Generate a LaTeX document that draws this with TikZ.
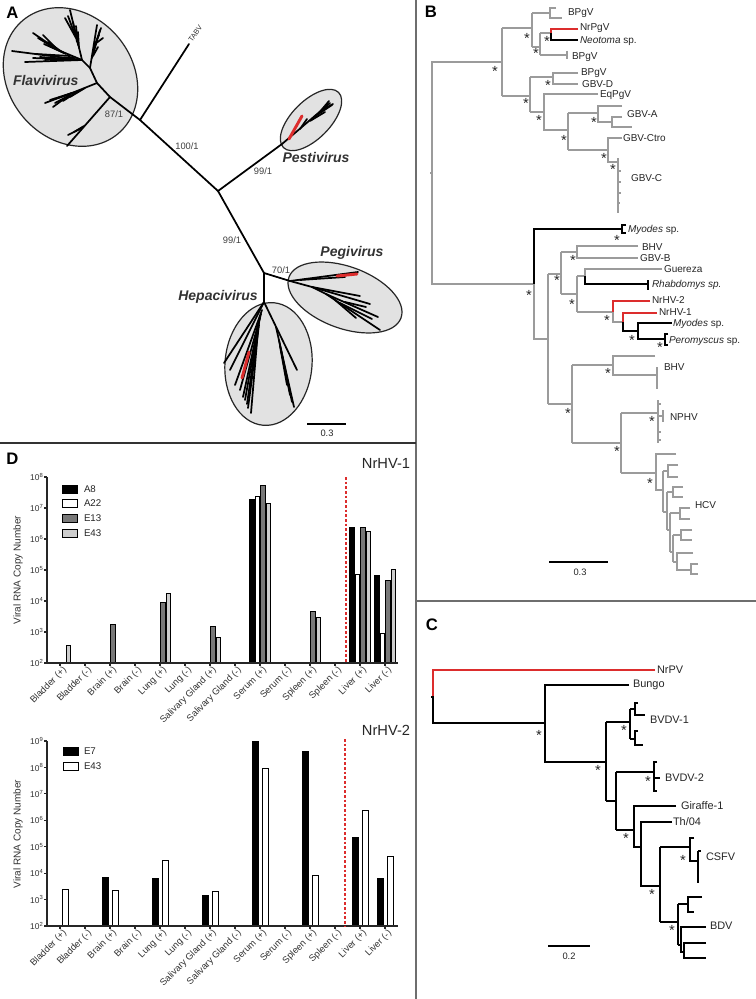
\documentclass[tikz,border=0pt]{standalone}
\usepackage{fontspec}
\setmainfont{Liberation Sans}
\definecolor{tgray}{RGB}{155,155,155}
\definecolor{tred}{RGB}{220,45,45}
\definecolor{efill}{RGB}{226,226,226}
\definecolor{bdark}{RGB}{120,120,120}
\definecolor{blight}{RGB}{205,205,205}
\definecolor{framec}{RGB}{110,110,110}
\begin{document}
\begin{tikzpicture}[x=0.75pt,y=-0.75pt,
 every node/.style={inner sep=0pt,outer sep=0pt},
 pl/.style={font=\fontsize{12.5}{14}\selectfont\bfseries},
 al/.style={line width=1.3pt,draw=black,line cap=round},
 ar/.style={line width=2.2pt,draw=tred,line cap=round},
 gt/.style={line width=1.1pt,draw=tgray},
 bt/.style={line width=1.1pt,draw=black},
 rt/.style={line width=1.1pt,draw=tred},
 ct/.style={line width=1.25pt,draw=black},
 lab/.style={font=\fontsize{7.5}{9}\selectfont,anchor=west,text=black!85},
 clab/.style={font=\fontsize{8.2}{10}\selectfont,anchor=west,text=black!85},
 ast/.style={font=\fontsize{11}{12}\selectfont,yshift=-2.4pt,text=black!85},
 boot/.style={font=\fontsize{7}{8}\selectfont,text=black!75},
 genus/.style={font=\fontsize{10.5}{12}\selectfont\bfseries\itshape,text=black!80},
 ell/.style={fill=efill,draw=black!85,line width=0.9pt},
 sbar/.style={line width=1.2pt,draw=black},
 stxt/.style={font=\fontsize{7}{8}\selectfont,text=black!85},
 barl/.style={line width=0.6pt,draw=black},
 tickl/.style={font=\fontsize{6.3}{7}\selectfont,text=black!80,anchor=east},
 catl/.style={font=\fontsize{7}{8}\selectfont,text=black!80,rotate=45,anchor=east},
 axl/.style={font=\fontsize{7.5}{8}\selectfont,text=black!80,rotate=90},
 ax/.style={line width=0.8pt,draw=black!85},
 rdash/.style={line width=0.8pt,draw=tred,dash pattern=on 2pt off 1.5pt},
 legl/.style={font=\fontsize{7.3}{8}\selectfont,text=black!85,anchor=west},
 big/.style={font=\fontsize{11}{12}\selectfont,text=black!85}
]
\fill[white] (0,0) rectangle (756,999);
\useasboundingbox (0,0) rectangle (756,999);

% frames
\draw[draw=framec,line width=1.5pt] (416,0) -- (416,999);
\draw[draw=black!80,line width=1.2pt] (0,443) -- (416,443);
\draw[draw=framec,line width=1.5pt] (416,601) -- (756,601);

% ================= PANEL A =================
\node[pl] (labA) at (12.5,13) {A};
\filldraw[ell,rotate around={-50:(70.5,77)}] (70.5,77) ellipse (74 and 62);
\filldraw[ell,rotate around={45:(311,120)}] (311,120) ellipse (39 and 19);
\filldraw[ell,rotate around={-20:(345,297.5)}] (345,297.5) ellipse (59.6 and 30.9);
\filldraw[ell,rotate around={-5:(268.5,364)}] (268.5,364) ellipse (43.5 and 61.5);

% backbone
\draw[al] (82,60) -- (90,68) -- (97,83) -- (110,97) -- (140,120) -- (218,191) -- (282,144);
\draw[al] (140,120) -- (189,44);
\draw[al] (218,191) -- (264,273) -- (290,281);
\draw[al] (264,273) -- (264,302);
% flavivirus fans
\draw[al] (82,60) -- (12,51);
\draw[al] (82,60) -- (25,62);
\draw[al] (82,60) -- (33,58);
\draw[al] (82,60) -- (40,57);
\draw[al] (70,56) -- (36,54);
\draw[al] (74,57) -- (45,60);
\draw[al] (82,60) -- (58,50) -- (33,33);
\draw[al] (58,50) -- (43,35);
\draw[al] (58,50) -- (38,38);
\draw[al] (62,52) -- (48,42);
\draw[al] (64,53) -- (44,44);
\draw[al] (66,54) -- (52,47);
\draw[al] (82,60) -- (70,10);
\draw[al] (76,38) -- (65,18);
\draw[al] (75,35) -- (68,16);
\draw[al] (77,42) -- (73,22);
\draw[al] (78,45) -- (76,26);
\draw[al] (79,48) -- (78,32);
\draw[al] (90,68) -- (97,25);
\draw[al] (93,52) -- (101,28);
\draw[al] (94,49) -- (100,30);
\draw[al] (94,47) -- (99,35);
\draw[al] (95,44) -- (103,38);
\draw[al] (93,56) -- (98,47);
\draw[al] (92,58) -- (96,44);
\draw[al] (97,83) -- (72,93) -- (45,103);
\draw[al] (72,93) -- (53,107);
\draw[al] (72,93) -- (50,100);
\draw[al] (70,95) -- (55,103);
\draw[al] (78,91) -- (58,98);
\draw[al] (80,90) -- (63,101);
\draw[al] (85,88) -- (70,97);
\draw[al] (110,97) -- (67,146);
\draw[al] (82,128) -- (68,135);
\draw[al] (84,126) -- (74,132);
% pestivirus
\draw[al] (282,144) -- (330,103);
\draw[al] (300,129) -- (307,119);
\draw[al] (310,121) -- (325,112);
\draw[al] (314,117) -- (332,105);
\draw[al] (318,114) -- (329,101);
\draw[al] (322,110) -- (333,104);
\draw[ar] (289,139) -- (302,116);
% pegivirus
\draw[al] (290,281) -- (358,272);
\draw[al] (300,280) -- (345,277);
\draw[ar] (337,276) -- (357,274);
\draw[al] (290,281) -- (312,287) -- (360,296);
\draw[al] (312,287) -- (370,304);
\draw[al] (312,287) -- (326,294) -- (378,317);
\draw[al] (326,294) -- (380,330);
\draw[al] (340,303) -- (372,319);
\draw[al] (345,302) -- (366,307);
\draw[al] (335,300) -- (356,318);
% hepacivirus
\draw[al] (264,302) -- (224,363);
\draw[al] (264,302) -- (230,370);
\draw[al] (262,310) -- (235,385);
\draw[al] (261,314) -- (240,390);
\draw[al] (260,318) -- (243,397);
\draw[al] (259,322) -- (247,404);
\draw[al] (259,325) -- (248,408);
\draw[al] (258,330) -- (251,413);
\draw[al] (257,333) -- (245,400);
\draw[ar] (249,352) -- (242,378);
\draw[al] (264,302) -- (297,370);
\draw[al] (276,327) -- (294,407);
\draw[al] (279,340) -- (290,395);
\draw[al] (280,346) -- (287,385);
\draw[al] (281,350) -- (292,402);
% labels
\node[genus,anchor=west] (flav) at (13,80) {Flavivirus};
\node[genus] (pest) at (316,157) {Pestivirus};
\node[genus] (pegi) at (352,253) {Pegivirus};
\node[genus] (hepa) at (218,297) {Hepacivirus};
\node[boot] (b1) at (114,114) {87/1};
\node[boot] (b2) at (187,146) {100/1};
\node[boot] (b3) at (263,171) {99/1};
\node[boot] (b4) at (232,240) {99/1};
\node[boot] (b5) at (281,270) {70/1};
\node[font=\fontsize{5.5}{6}\selectfont,text=black!80,rotate=55,anchor=west] (tabv) at (190,41) {TABV};
\draw[sbar] (307,424) -- (346,424);
\node[stxt] (sA) at (327,433) {0.3};

% ================= PANEL B =================
\node[pl] (labB) at (431,12) {B};
% root
\draw[gt] (430,173) -- (432,173);
\draw[gt] (502,62) -- (432,62) -- (432,284) -- (534,284);
% pegivirus clade
\draw[gt] (502,28) -- (502,96);
\draw[gt] (502,28) -- (532,28);
\draw[gt] (532,13) -- (532,47);
\draw[gt] (532,13) -- (550,13);
\draw[gt] (556,8) -- (550,8) -- (550,18) -- (562,18);
\draw[gt] (532,47) -- (540,47);
\draw[gt] (540,33) -- (540,55);
\draw[gt] (540,33) -- (551,33);
\draw[rt] (578,29) -- (551,29) -- (551,33);
\draw[bt] (551,33) -- (551,40) -- (578,40);
\draw[gt] (540,55) -- (567,55);
\draw[gt] (567,51) -- (567,59);
\draw[gt] (502,96) -- (530,96);
\draw[gt] (530,77) -- (530,112);
\draw[gt] (530,77) -- (553,77);
\draw[gt] (578,73) -- (553,73) -- (553,84) -- (578,84);
\draw[gt] (530,112) -- (544,112);
\draw[gt] (598,94) -- (544,94) -- (544,130) -- (568,130);
\draw[gt] (568,113) -- (568,150);
\draw[gt] (568,113) -- (598,113);
\draw[gt] (622,106) -- (598,106) -- (598,122) -- (612,122);
\draw[gt] (622,117) -- (612,117) -- (612,127) -- (632,127);
\draw[gt] (568,150) -- (608,150);
\draw[gt] (622,138) -- (608,138) -- (608,162) -- (618,162);
\draw[gt] (618,158) -- (618,213);
\draw[gt] (618,171) -- (621,171);
\draw[gt] (618,182) -- (621,182);
\draw[gt] (618,193) -- (621,193);
\draw[gt] (618,203) -- (620,203);
% hepacivirus clade
\draw[bt] (534,284) -- (534,229) -- (622,229);
\draw[bt] (626,225) -- (622,225) -- (622,233) -- (626,233);
\draw[gt] (534,284) -- (534,339) -- (548,339);
\draw[gt] (548,274) -- (548,404);
\draw[gt] (548,274) -- (561,274);
\draw[gt] (561,252) -- (561,294);
\draw[gt] (561,252) -- (577,252);
\draw[gt] (638,246) -- (577,246) -- (577,258) -- (638,258);
\draw[gt] (561,294) -- (577,294);
\draw[gt] (577,276) -- (577,312);
\draw[gt] (577,276) -- (585,276);
\draw[gt] (662,269) -- (585,269) -- (585,276);
\draw[bt] (585,276) -- (585,284) -- (648,284);
\draw[bt] (648,280) -- (648,290);
\draw[gt] (577,312) -- (613,312);
\draw[rt] (650,301) -- (613,301) -- (613,312);
\draw[gt] (613,312) -- (613,322) -- (623,322);
\draw[rt] (657,313) -- (623,313) -- (623,322);
\draw[bt] (623,322) -- (623,331) -- (638,331);
\draw[bt] (672,323) -- (638,323) -- (638,339) -- (665,339);
\draw[bt] (668,334) -- (665,334) -- (665,345) -- (668,345);
\draw[gt] (548,404) -- (572,404);
\draw[gt] (572,365) -- (572,443);
\draw[gt] (572,365) -- (613,365);
\draw[gt] (655,356) -- (613,356) -- (613,375) -- (657,375);
\draw[gt] (657,367) -- (657,389);
\draw[gt] (572,443) -- (621,443);
\draw[gt] (621,413) -- (621,473);
\draw[gt] (621,413) -- (658,413);
\draw[gt] (658,400) -- (658,443);
\draw[gt] (658,416) -- (663,416);
\draw[gt] (663,410) -- (663,422);
\draw[gt] (658,404) -- (661,404);
\draw[gt] (658,432) -- (661,432);
\draw[gt] (658,440) -- (661,440);
\draw[gt] (621,473) -- (656,473);
\draw[gt] (676,454) -- (656,454) -- (656,490) -- (663,490);
\draw[gt] (663,471) -- (663,512);
\draw[gt] (663,471) -- (668,471);
\draw[gt] (678,465) -- (668,465) -- (668,477) -- (678,477);
\draw[gt] (663,512) -- (667,512);
\draw[gt] (667,492) -- (667,530);
\draw[gt] (667,492) -- (673,492);
\draw[gt] (683,487) -- (673,487) -- (673,497) -- (683,497);
\draw[gt] (667,530) -- (670,530);
\draw[gt] (670,513) -- (670,552);
\draw[gt] (670,513) -- (680,513);
\draw[gt] (690,508) -- (680,508) -- (680,519) -- (690,519);
\draw[gt] (670,552) -- (673,552);
\draw[gt] (673,535) -- (673,562);
\draw[gt] (673,535) -- (681,535);
\draw[gt] (692,530) -- (681,530) -- (681,540) -- (692,540);
\draw[gt] (673,562) -- (677,562);
\draw[gt] (693,553) -- (677,553) -- (677,570) -- (691,570);
\draw[gt] (698,564) -- (691,564) -- (691,574) -- (698,574);
% B asterisks
\foreach \p [count=\i] in {(495,68),(527,35),(536,50),(547,38),(526,100),(548,82),(539,117),(564,137),(594,119),(604,155),(613,166),(617,237),(529,292),(557,277),(573,257),(572,301),(607,317),(632,337),(660,344),(568,410),(608,370),(617,448),(652,418),(650,480)}
  \node[ast] (sb\i) at \p {*};
% B labels
\node[lab] (t1) at (568,13) {BPgV};
\node[lab] (t2) at (580,28) {NrPgV};
\node[lab] (t3) at (580,41) {\textit{Neotoma} sp.};
\node[lab] (t4) at (572,57) {BPgV};
\node[lab] (t5) at (581,73) {BPgV};
\node[lab] (t6) at (582,84) {GBV-D};
\node[lab] (t7) at (600,95) {EqPgV};
\node[lab] (t8) at (627,114) {GBV-A};
\node[lab] (t9) at (623,138) {GBV-Ctro};
\node[lab] (t10) at (631,178) {GBV-C};
\node[lab] (t11) at (628,230) {\textit{Myodes} sp.};
\node[lab] (t12) at (642,247) {BHV};
\node[lab] (t13) at (640,258) {GBV-B};
\node[lab] (t14) at (664,269) {Guereza};
\node[lab] (t15) at (652,285) {\textit{Rhabdomys sp.}};
\node[lab] (t16) at (652,300) {NrHV-2};
\node[lab] (t17) at (659,312) {NrHV-1};
\node[lab] (t18) at (673,324) {\textit{Myodes} sp.};
\node[lab] (t19) at (669,341) {\textit{Peromyscus} sp.};
\node[lab] (t20) at (664,367) {BHV};
\node[lab] (t21) at (670,417) {NPHV};
\node[lab] (t22) at (695,505) {HCV};
\draw[sbar] (549,562) -- (608,562);
\node[stxt] (sB) at (580,572) {0.3};

% ================= PANEL C =================
\node[pl] (labC) at (432,625) {C};
\draw[line width=1.25pt,draw=tred] (655,670) -- (433,670) -- (433,697);
\draw[ct] (431,697) -- (433,697) -- (433,723) -- (545,723);
\draw[ct] (629,685) -- (545,685) -- (545,762) -- (606,762);
\draw[ct] (606,722) -- (606,801);
\draw[ct] (606,722) -- (630,722);
\draw[ct] (630,709) -- (630,739);
\draw[ct] (630,709) -- (635,709);
\draw[ct] (638,703) -- (635,703) -- (635,715) -- (645,715);
\draw[ct] (630,739) -- (635,739);
\draw[ct] (638,731) -- (635,731) -- (635,745) -- (643,745);
\draw[ct] (606,801) -- (616,801);
\draw[ct] (616,772) -- (616,830);
\draw[ct] (616,772) -- (654,772);
\draw[ct] (657,762) -- (654,762) -- (654,791) -- (657,791);
\draw[ct] (654,778) -- (660,778);
\draw[ct] (616,830) -- (634,830);
\draw[ct] (676,806) -- (634,806) -- (634,847) -- (641,847);
\draw[ct] (672,822) -- (641,822) -- (641,886) -- (660,886);
\draw[ct] (660,847) -- (660,922);
\draw[ct] (660,847) -- (690,847);
\draw[ct] (694,838) -- (690,838) -- (690,861) -- (698,861);
\draw[ct] (698,851) -- (698,883);
\draw[ct] (698,851) -- (701,851);
\draw[ct] (660,922) -- (678,922);
\draw[ct] (678,904) -- (678,945);
\draw[ct] (678,904) -- (688,904);
\draw[ct] (702,897) -- (688,897) -- (688,912) -- (694,912);
\draw[ct] (678,945) -- (681,945);
\draw[ct] (706,927) -- (681,927) -- (681,952) -- (684,952);
\draw[ct] (706,943) -- (684,943) -- (684,958) -- (706,958);
\foreach \p [count=\i] in {(539,732),(598,767),(624,727),(648,778),(626,835),(652,891),(683,857),(672,927)}
  \node[ast] (sc\i) at \p {*};
\node[clab] (c1) at (657,670) {NrPV};
\node[clab] (c2) at (633,685) {Bungo};
\node[clab] (c3) at (650,720) {BVDV-1};
\node[clab] (c4) at (665,778) {BVDV-2};
\node[clab] (c5) at (681,806) {Giraffe-1};
\node[clab] (c6) at (673,822) {Th/04};
\node[clab] (c7) at (706,857) {CSFV};
\node[clab] (c8) at (710,926) {BDV};
\draw[sbar] (548,946) -- (590,946);
\node[stxt] (sC) at (569,956) {0.2};

% ================= PANEL D =================
\node[pl] (labD) at (12.5,459) {D};
\node[big] (h1) at (386,463) {NrHV-1};
\node[big] (h2) at (386,730) {NrHV-2};
% top chart
\node[axl] (ya1) at (18,570) {Viral RNA Copy Number};
\foreach \k in {2,...,8} {
  \draw[ax] (44,{663-(\k-2)*31}) -- (47,{663-(\k-2)*31});
  \node[tickl] (ty\k) at (43.5,{663-(\k-2)*31}) {10\textsuperscript{\k}};
}
\foreach \c/\o/\v/\f in {0/8.25/2.58/blight, 2/2.75/3.26/bdark, 4/2.75/3.94/bdark, 4/8.25/4.26/blight, 6/2.75/3.19/bdark, 6/8.25/2.81/blight, 8/-8.25/7.29/black, 8/-2.75/7.39/white, 8/2.75/7.74/bdark, 8/8.25/7.16/blight, 10/2.75/3.65/bdark, 10/8.25/3.48/blight, 12/-8.25/6.39/black, 12/-2.75/4.87/white, 12/2.75/6.39/bdark, 12/8.25/6.26/blight, 13/-8.25/4.81/black, 13/-2.75/2.94/white, 13/2.75/4.68/bdark, 13/8.25/5.03/blight}
  \draw[barl,fill=\f] ({60+25*\c+\o-2.25},663) rectangle ({60+25*\c+\o+2.25},{663-(\v-2)*31});
\draw[ax] (47,477) -- (47,663) -- (398,663);
\foreach \n [count=\i from 0] in {{Bladder (+)},{Bladder (-)},{Brain (+)},{Brain (-)},{Lung (+)},{Lung (-)},{Salivary Gland (+)},{Salivary Gland (-)},{Serum (+)},{Serum (-)},{Spleen (+)},{Spleen (-)},{Liver (+)},{Liver (-)}} {
  \draw[ax] ({60+25*\i},663) -- ({60+25*\i},666);
  \node[catl] (ca\i) at ({60+25*\i+5},669) {\n};
  \draw[ax] ({60+25*\i},926) -- ({60+25*\i},929);
  \node[catl] (cb\i) at ({60+25*\i+5},932) {\n};
}
\draw[rdash] (346,477) -- (346,663);
\draw[barl,fill=black] (62,485) rectangle (77,493);
\draw[barl,fill=white] (62,499) rectangle (77,507);
\draw[barl,fill=bdark] (62,514) rectangle (77,522);
\draw[barl,fill=blight] (62,529) rectangle (77,537);
\node[legl] (l1) at (84,489) {A8};
\node[legl] (l2) at (84,503) {A22};
\node[legl] (l3) at (84,518) {E13};
\node[legl] (l4) at (84,533) {E43};
% bottom chart
\node[axl] (ya2) at (18,834) {Viral RNA Copy Number};
\foreach \k in {2,...,9} {
  \draw[ax] (44,{926-(\k-2)*26.43}) -- (47,{926-(\k-2)*26.43});
  \node[tickl] (tz\k) at (43.5,{926-(\k-2)*26.43}) {10\textsuperscript{\k}};
}
\foreach \c/\o/\v/\f in {0/5/3.39/white, 2/-5/3.84/black, 2/5/3.34/white, 4/-5/3.80/black, 4/5/4.47/white, 6/-5/3.17/black, 6/5/3.30/white, 8/-5/8.97/black, 8/5/7.97/white, 10/-5/8.62/black, 10/5/3.90/white, 12/-5/5.34/black, 12/5/6.39/white, 13/-5/3.80/black, 13/5/4.62/white}
  \draw[barl,fill=\f] ({60+25*\c+\o-3},926) rectangle ({60+25*\c+\o+3},{926-(\v-2)*26.43});
\draw[ax] (47,741) -- (47,926) -- (398,926);
\draw[rdash] (345,739) -- (345,926);
\draw[barl,fill=black] (63,747) rectangle (78,755);
\draw[barl,fill=white] (63,762) rectangle (78,770);
\node[legl] (l5) at (84,751) {E7};
\node[legl] (l6) at (84,766) {E43};
\end{tikzpicture}
\end{document}
